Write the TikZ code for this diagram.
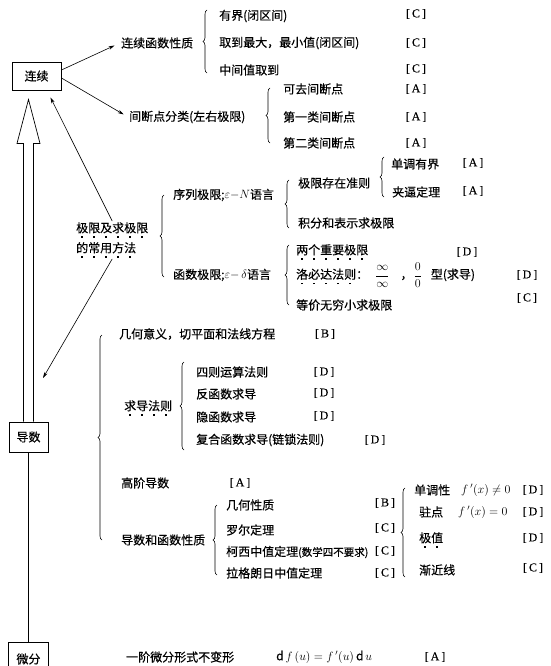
\documentclass[tikz,border=0pt]{standalone}
\usepackage{fontspec}
\setmainfont{Noto Sans CJK SC}[FakeBold=0.4]
\newfontfamily\lat{Liberation Serif}[FakeBold=0.3]
\usetikzlibrary{decorations.pathreplacing,arrows.meta,calc}

\newcommand\dotc[1]{\rlap{\hspace{0.42em}\raisebox{-0.45em}{\rule{1.5pt}{1.5pt}}}#1}
\def\zdot#1{\zdotaux#1\relax}
\def\zdotaux#1{\ifx\relax#1\else\dotc{#1}\expandafter\zdotaux\fi}
\newcommand\lb[1]{[\,#1\,]}

\tikzset{
 txt/.style={anchor=west, inner sep=1pt, font=\fontsize{12}{14}\selectfont},
 lab/.style={inner sep=0pt, font=\fontsize{12}{14}\selectfont\lat},
 fbox/.style={draw, line width=0.9pt, inner sep=0pt, font=\fontsize{12}{14}\selectfont},
 br/.style={decorate, decoration={brace, amplitude=4pt}, line width=0.6pt},
 arr/.style={-{Stealth[length=6pt,width=3.5pt]}, line width=0.6pt},
}

\begin{document}
\begin{tikzpicture}[x=1pt,y=-1pt]
\useasboundingbox (0,0) rectangle (550,666);

% boxes
\node[fbox, minimum width=49pt, minimum height=28pt] (lianxu) at (36.5,76) {连续};
\node[fbox, minimum width=39pt, minimum height=30pt] (daoshu) at (28.5,437) {导数};
\node[fbox, minimum width=40pt, minimum height=34pt] (weifen) at (28.5,659) {微分};

% continuity branch
\node[txt] (lxhs) at (120,43) {连续函数性质};
\draw[br] (207,73) -- (207,10);
\node[txt] (yj) at (218,16) {有界(闭区间)};
\node[txt] (qd) at (218,43) {取到最大，最小值(闭区间)};
\node[txt] (zj) at (218,70) {中间值取到};
\node[lab] (l1) at (416,14) {\lb{C}};
\node[lab] (l2) at (416,43) {\lb{C}};
\node[lab] (l3) at (416,69) {\lb{C}};

\node[txt] (jdd) at (128,117) {间断点分类(左右极限)};
\draw[br] (270,143) -- (270,88);
\node[txt] (kq) at (282,89) {可去间断点};
\node[txt] (dy) at (282,117) {第一类间断点};
\node[txt] (de) at (282,143) {第二类间断点};
\node[lab] (l4) at (416,89) {\lb{A}};
\node[lab] (l5) at (416,117) {\lb{A}};
\node[lab] (l6) at (416,143) {\lb{A}};

\draw[arr, shorten >=6pt] ([yshift=6pt]lianxu.east) -- (lxhs.west);
\draw[arr, shorten >=5pt] ([yshift=-2pt]lianxu.east) -- (jdd.west);

% limits branch
\node[txt, align=left, font=\fontsize{12}{20}\selectfont] (jx) at (75,240) {\zdot{极限及求极限}\\\zdot{的常用方法}};
\draw[br] (164,277) -- (164,195);
\node[txt] (xl) at (172,195) {序列极限;$\varepsilon{-}N$语言};
\draw[br] (289,228) -- (289,180);
\node[txt] (jxcz) at (297,183) {极限存在准则};
\draw[br] (384,197) -- (384,157);
\node[txt] (ddyj) at (390,164) {单调有界};
\node[txt] (jb) at (391,192) {夹逼定理};
\node[lab] (l7) at (473,163) {\lb{A}};
\node[lab] (l8) at (473,191) {\lb{A}};
\node[txt] (jf) at (297,223) {积分和表示求极限};

\node[txt] (hs) at (172,275) {函数极限;$\varepsilon{-}\,\delta$语言};
\draw[br] (289,305) -- (289,245);
\node[txt] (lg) at (295,252) {\zdot{两个重要极限}};
\node[txt] (lbd) at (295,275) {\zdot{洛必达法则}：\hspace{7pt}${\displaystyle\frac{\infty}{\infty}}$\hspace{11pt}，\hspace{1pt}${\displaystyle\frac{0}{0}}$\hspace{9pt}型(求导)};
\node[txt] (dj) at (295,305) {等价无穷小求极限};
\node[lab] (l9) at (467,252) {\lb{D}};
\node[lab] (l10) at (527,275) {\lb{D}};
\node[lab] (l11) at (527,298) {\lb{C}};

\coordinate (dt) at (43,378);
\draw[arr] (jx.north) -- ([xshift=-11pt,yshift=-7pt]lianxu.south east);
\draw[arr] (jx.south) -- (dt);

% hollow arrow from daoshu to lianxu
\draw[line width=0.7pt] let \p1=(daoshu.north), \p2=(lianxu.south) in
  (\x1-5pt,\y1) -- (\x1-5pt,\y2-53pt) -- (\x1-11.5pt,\y2-53pt) -- (\x1,\y2-9pt)
  -- (\x1+11.5pt,\y2-53pt) -- (\x1+5pt,\y2-53pt) -- (\x1+5pt,\y1);
\draw[line width=0.6pt] (daoshu.south) -- (weifen.north);

% derivative branch
\draw[br] (102,540) -- (102,335);
\node[txt] (jh) at (118,334) {几何意义，切平面和法线方程};
\node[lab] (l12) at (325,334) {\lb{B}};
\node[txt] (qdfz) at (123,408) {\zdot{求导法则}};
\draw[br] (184,450) -- (184,362);
\node[txt] (sz) at (195,372) {四则运算法则};
\node[txt] (fh) at (195,394) {反函数求导};
\node[txt] (yh) at (195,417) {隐函数求导};
\node[txt] (fu) at (195,440) {复合函数求导(链锁法则)};
\node[lab] (l13) at (324,372) {\lb{D}};
\node[lab] (l14) at (324,393) {\lb{D}};
\node[lab] (l15) at (324,416) {\lb{D}};
\node[lab] (l16) at (375,440) {\lb{D}};

\node[txt] (gj) at (120,483) {高阶导数};
\node[lab] (l17) at (240,483) {\lb{A}};

\node[txt] (dhx) at (120,540) {导数和函数性质};
\draw[br] (217,575) -- (217,505);
\node[txt] (jhx) at (225,505) {几何性质};
\node[txt] (le) at (225,530) {罗尔定理};
\node[txt] (kx) at (225,552) {柯西中值定理{\fontsize{10.5}{12}\selectfont(数学四不要求)}};
\node[txt] (lg2) at (225,573) {拉格朗日中值定理};
\node[lab] (l18) at (385,503) {\lb{B}};
\node[lab] (l19) at (385,528) {\lb{C}};
\node[lab] (l20) at (385,551) {\lb{C}};
\node[lab] (l21) at (385,573) {\lb{C}};

\draw[br] (405,577) -- (405,488);
\node[txt] (ddx) at (413,490) {单调性};
\node[txt] (f1) at (460,490) {$f\,'(x)\neq0$};
\node[txt] (zd) at (418,512) {驻点};
\node[txt] (f2) at (457,512) {$f\,'(x)=0$};
\node[txt] (jz) at (418,540) {\zdot{极值}};
\node[txt] (jjx) at (418,570) {渐近线};
\node[lab] (l22) at (533,490) {\lb{D}};
\node[lab] (l23) at (533,512) {\lb{D}};
\node[lab] (l24) at (533,538) {\lb{D}};
\node[lab] (l25) at (533,568) {\lb{C}};

% differential
\node[txt] (yjwf) at (125,657) {一阶微分形式不变形};
\node[txt] (dfu) at (275,657) {$\mathrm{d}\,f\,(u)=f\,'(u)\,\mathrm{d}\,u$};
\node[lab] (l26) at (435,657) {\lb{A}};
\end{tikzpicture}
\end{document}
